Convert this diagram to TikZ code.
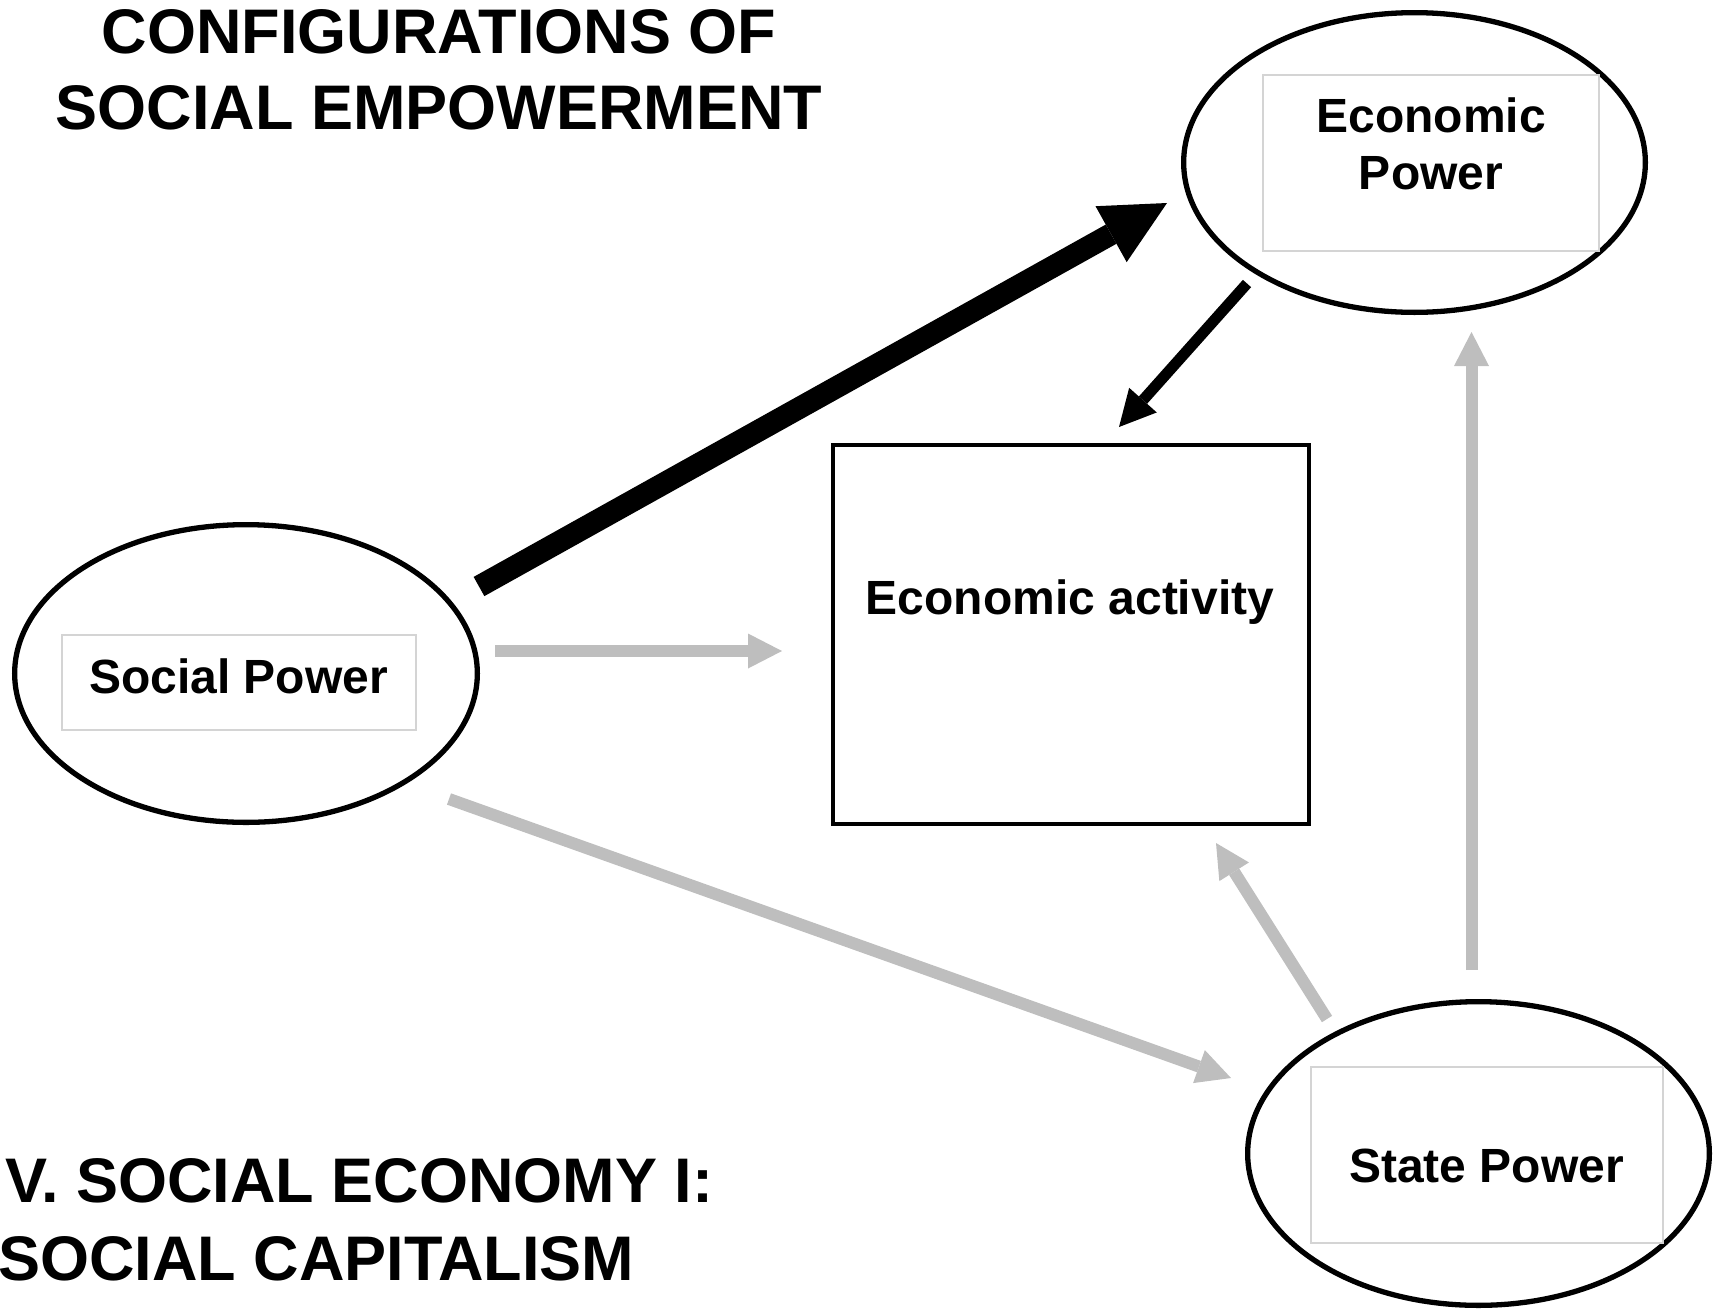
\documentclass[tikz,border=0pt]{standalone}
\usepackage{fontspec}
\setmainfont{Liberation Sans}
\usetikzlibrary{shapes.geometric,arrows.meta}
\definecolor{arrowgray}{RGB}{190,190,190}
\definecolor{lightframe}{RGB}{212,212,212}
\begin{document}
\begin{tikzpicture}[x=1pt,y=-1pt,
  ell/.style={draw,line width=5.3pt,ellipse,inner sep=0pt},
  inbox/.style={draw=lightframe,line width=1.3pt,inner sep=0pt},
  lbl/.style={font=\fontsize{48}{57}\selectfont\bfseries,anchor=base,inner sep=0pt},
  ttl/.style={font=\fontsize{63}{76}\selectfont\bfseries,inner sep=0pt},
  garrow/.style={draw=arrowgray,line width=12pt,-{Triangle[length=34pt,width=35pt,line width=0pt]}},
]
\useasboundingbox (0,0) rectangle (1716,1310);

% titles
\node[ttl,anchor=base] (t1) at (439,53) {CONFIGURATIONS OF};
\node[ttl,anchor=base] (t2) at (439,129) {SOCIAL EMPOWERMENT};
\node[ttl,anchor=base west] (t3) at (5,1202) {V. SOCIAL ECONOMY I:};
\node[ttl,anchor=base west] (t4) at (-2,1280) {SOCIAL CAPITALISM};

% Economic Power
\node[ell,minimum width=461.7pt,minimum height=299.7pt] (ep) at (1414.5,162.5) {};
\node[inbox,minimum width=336pt,minimum height=176pt] (epbox) at (1431,163) {};
\node[lbl] (eptxt1) at (1431,132) {Economic};
\node[lbl] (eptxt2) at (1431,189) {Power};

% Social Power
\node[ell,minimum width=462.7pt,minimum height=297.7pt] (sp) at (246,673.5) {};
\node[inbox,minimum width=354pt,minimum height=95pt] (spbox) at (239,682.5) {};
\node[lbl] (sptxt) at (238.5,693) {Social Power};

% State Power
\node[ell,minimum width=461.7pt,minimum height=303.7pt] (st) at (1478.5,1153.5) {};
\node[inbox,minimum width=352pt,minimum height=176pt] (stbox) at (1487,1155) {};
\node[lbl] (sttxt) at (1486.5,1182) {State Power};

% Economic activity
\node[draw,line width=3.6pt,inner sep=0pt,minimum width=476.4pt,minimum height=379.4pt] (ea) at (1071,634.5) {};
\node[lbl] (eatxt) at (1070,614) {Economic activity};

% arrow end points
\coordinate (a1s) at (479,586.5);
\coordinate (a1e) at (1167,203);
\coordinate (a2s) at (1247,283.5);
\coordinate (a2e) at (1119,427);
\coordinate (a3s) at (495,651);
\coordinate (a3e) at (782,651);
\coordinate (a4s) at (449,799);
\coordinate (a4e) at (1231,1078);
\coordinate (a5s) at (1327,1019);
\coordinate (a5e) at (1216,843);
\coordinate (a6s) at (1471.5,970);
\coordinate (a6e) at (1471.5,332);

% black arrows
\draw[line width=22pt,-{Triangle[length=64pt,width=64pt,line width=0pt]}] (a1s) -- (a1e);
\draw[line width=11pt,-{Triangle[length=36pt,width=37pt,line width=0pt]}] (a2s) -- (a2e);

% gray arrows
\draw[garrow] (a3s) -- (a3e);
\draw[garrow] (a4s) -- (a4e);
\draw[garrow] (a5s) -- (a5e);
\draw[garrow] (a6s) -- (a6e);
\end{tikzpicture}
\end{document}
